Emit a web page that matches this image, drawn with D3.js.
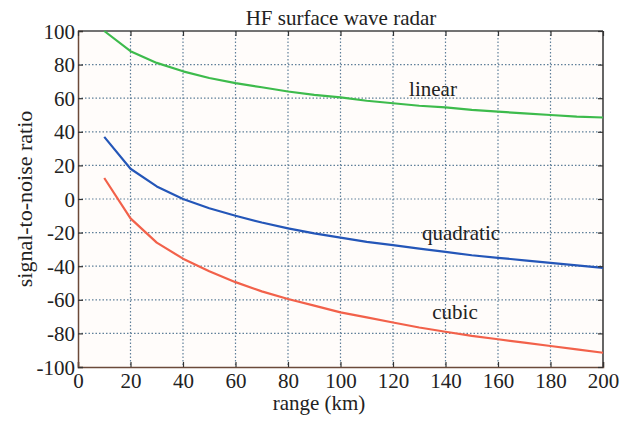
<!DOCTYPE html>
<html>
<head>
<meta charset="utf-8">
<script src="https://cdn.jsdelivr.net/npm/d3@7"></script>
<style>
  body { margin: 0; background: #fff; }
  svg text { font-family: "Liberation Serif", "Times New Roman", serif; fill: #222; }
</style>
</head>
<body>
<div class="chart"></div>
<script>
// range (km)
const ranges = [10, 20, 30, 40, 50, 60, 70, 80, 90, 100, 110, 120, 130, 140, 150, 160, 170, 180, 190, 200];
const linear = [100, 88, 81, 76, 72, 69, 66.5, 64, 62, 60.5, 58.5, 57, 55.5, 54.5, 53, 52, 51, 50, 49, 48.5];
const quadratic = [37, 18, 7.5, 0, -5.5, -10, -14, -17.5, -20.5, -23, -25.5, -27.5, -29.5, -31.5, -33.5, -35, -36.5, -38, -39.5, -41];
const cubic = [12.5, -11.5, -26, -35.5, -43, -49.5, -55, -59.5, -63.5, -67.5, -70.5, -73.5, -76.5, -79, -81.5, -83.5, -85.5, -87.5, -89.5, -91.5];
const xTicks = [0, 20, 40, 60, 80, 100, 120, 140, 160, 180, 200];
const yTicks = [-100, -80, -60, -40, -20, 0, 20, 40, 60, 80, 100];

const series = [
  {name: "linear", values: linear, color: "#3dbb4c", lx: 433, ly: 96},
  {name: "quadratic", values: quadratic, color: "#2456b8", lx: 461, ly: 240},
  {name: "cubic", values: cubic, color: "#f2614a", lx: 455, ly: 319}
];

const W = 629, H = 423;
const margin = {top: 31, right: 26, bottom: 56, left: 78};
const width = W - margin.left - margin.right;
const height = H - margin.top - margin.bottom;

const root = d3.select(".chart").append("svg")
  .attr("width", W)
  .attr("height", H);

const svg = root.append("g")
  .attr("transform", `translate(${margin.left},${margin.top})`);

const x = d3.scaleLinear().domain([0, 200]).range([0, width]);
const y = d3.scaleLinear().domain([-100, 100]).range([height, 0]);

// plot background
svg.append("rect")
  .attr("width", width)
  .attr("height", height)
  .attr("fill", "#fffcfa");

// dotted grid
svg.append("g")
  .selectAll("line")
  .data(xTicks.slice(1, -1))
  .join("line")
  .attr("x1", d => x(d)).attr("x2", d => x(d))
  .attr("y1", 0).attr("y2", height)
  .attr("stroke", "#5f7f99")
  .attr("stroke-width", 1.2)
  .attr("stroke-dasharray", "1.5,2");

svg.append("g")
  .selectAll("line")
  .data(yTicks.slice(1, -1))
  .join("line")
  .attr("x1", 0).attr("x2", width)
  .attr("y1", d => y(d)).attr("y2", d => y(d))
  .attr("stroke", "#5f7f99")
  .attr("stroke-width", 1.2)
  .attr("stroke-dasharray", "1.5,2");

// frame: top and right
svg.append("line")
  .attr("x1", 0).attr("x2", width).attr("y1", 0).attr("y2", 0)
  .attr("stroke", "#444").attr("stroke-width", 1.5);
svg.append("line")
  .attr("x1", width).attr("x2", width).attr("y1", 0).attr("y2", height)
  .attr("stroke", "#333").attr("stroke-width", 1.5);

// curves
const line = d3.line()
  .x((d, i) => x(ranges[i]))
  .y(d => y(d));

svg.selectAll(".curve")
  .data(series)
  .join("path")
  .attr("class", "curve")
  .attr("d", d => line(d.values))
  .attr("fill", "none")
  .attr("stroke", d => d.color)
  .attr("stroke-width", 2.2)
  .attr("stroke-linejoin", "round");

// axes
const fmt = d => String(d);
const xAxis = d3.axisBottom(x).tickValues(xTicks).tickFormat(fmt).tickSize(-5).tickPadding(6);
const yAxis = d3.axisLeft(y).tickValues(yTicks).tickFormat(fmt).tickSize(-5).tickPadding(3);

function styleAxis(g) {
  g.attr("font-family", null).attr("font-size", null);
  g.select(".domain").attr("stroke", "#6b4a3a").attr("stroke-width", 1.5);
  g.selectAll(".tick line").attr("stroke", "#333").attr("stroke-width", 1.2);
  g.selectAll(".tick text")
    .style("font-size", "21px")
    .attr("fill", "#222");
}

svg.append("g")
  .attr("transform", `translate(0,${height})`)
  .call(xAxis)
  .call(styleAxis);

svg.append("g")
  .call(yAxis)
  .call(styleAxis)
  .call(g => g.selectAll(".tick text").attr("dy", "0.34em"));

// right side ticks
svg.append("g")
  .attr("transform", `translate(${width},0)`)
  .call(d3.axisRight(y).tickValues(yTicks).tickSize(-5).tickFormat(""))
  .call(g => g.select(".domain").remove())
  .call(g => g.selectAll(".tick line").attr("stroke", "#333").attr("stroke-width", 1.2));

// top ticks
svg.append("g")
  .call(d3.axisTop(x).tickValues(xTicks).tickSize(-5).tickFormat(""))
  .call(g => g.select(".domain").remove())
  .call(g => g.selectAll(".tick line").attr("stroke", "#333").attr("stroke-width", 1.2));

// curve labels
svg.selectAll(".label")
  .data(series)
  .join("text")
  .attr("class", "label")
  .attr("x", d => d.lx - margin.left)
  .attr("y", d => d.ly - margin.top)
  .attr("text-anchor", "middle")
  .style("font-size", "21px")
  .text(d => d.name);

// title and axis titles
root.append("text")
  .attr("x", 341)
  .attr("y", 25)
  .attr("text-anchor", "middle")
  .style("font-size", "21px")
  .text("HF surface wave radar");

root.append("text")
  .attr("x", 319)
  .attr("y", 410)
  .attr("text-anchor", "middle")
  .style("font-size", "21px")
  .text("range (km)");

root.append("text")
  .attr("transform", "translate(32,199) rotate(-90)")
  .attr("text-anchor", "middle")
  .style("font-size", "22px")
  .text("signal-to-noise ratio");
</script>
</body>
</html>
